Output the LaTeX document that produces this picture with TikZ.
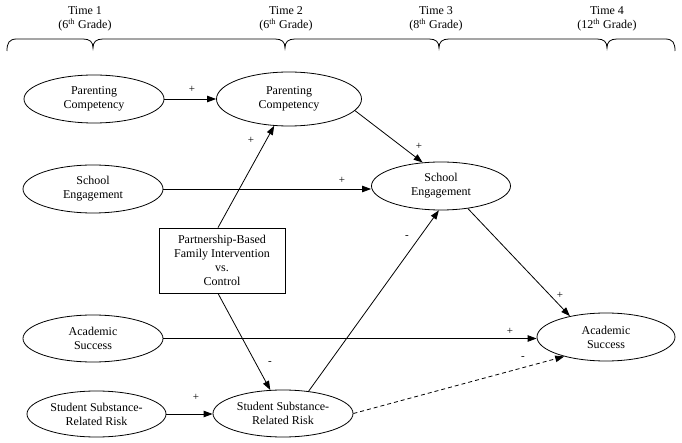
\documentclass[tikz,border=0pt]{standalone}
\usepackage{fontspec}
\setmainfont{Liberation Serif}
\usetikzlibrary{shapes.geometric,arrows.meta,calc}
\begin{document}
\begin{tikzpicture}[x=1pt,y=-1pt,
  every node/.style={font=\fontsize{12}{14}\selectfont, align=center},
  var/.style={draw, ellipse, line width=0.8pt, inner sep=0pt, minimum width=140pt, minimum height=48pt},
  boxnode/.style={draw, rectangle, line width=0.8pt, inner sep=0pt, minimum width=126pt, minimum height=65pt},
  timelab/.style={font=\fontsize{12}{14}\selectfont},
  sign/.style={font=\fontsize{11}{12}\selectfont, inner sep=0pt},
  path/.style={line width=0.8pt, -{Triangle[length=9pt,width=6.5pt]}}
]
\useasboundingbox (0,0) rectangle (682,443);

% time labels
\node[timelab] (t1) at (85,19) {Time 1\\(6\textsuperscript{th} Grade)};
\node[timelab] (t2) at (286,19) {Time 2\\(6\textsuperscript{th} Grade)};
\node[timelab] (t3) at (436,19) {Time 3\\(8\textsuperscript{th} Grade)};
\node[timelab] (t4) at (607,19) {Time 4\\(12\textsuperscript{th} Grade)};

% braces
\draw[line width=0.8pt]
  (7,51) .. controls (7,43) and (9,39) .. (17,39)
  -- (83,39) .. controls (90,39) and (93,42) .. (93,48)
  .. controls (93,42) and (96,39) .. (103,39)
  -- (275,39) .. controls (282,39) and (285,42) .. (285,48)
  .. controls (285,42) and (288,39) .. (295,39)
  -- (429,39) .. controls (436,39) and (439,42) .. (439,48)
  .. controls (439,42) and (442,39) .. (449,39)
  -- (597,39) .. controls (604,39) and (607,42) .. (607,48)
  .. controls (607,42) and (610,39) .. (617,39)
  -- (665,39) .. controls (673,39) and (675,43) .. (675,51);

% nodes
\node[var] (pc1) at (94,99) {Parenting\\Competency};
\node[var, minimum width=145pt, minimum height=54pt] (pc2) at (289,99) {Parenting\\Competency};
\node[var] (se1) at (93,189) {School\\Engagement};
\node[var, minimum width=139pt] (se3) at (441,186) {School\\Engagement};
\node[boxnode] (box) at (222,260.5) {Partnership-Based\\Family Intervention\\vs.\\Control};
\node[var, minimum height=47pt] (as1) at (93,338.5) {Academic\\Success};
\node[var, minimum width=138pt] (as4) at (606,337) {Academic\\Success};
\node[var, minimum width=139pt, minimum height=46pt] (ssr1) at (96.5,414) {Student Substance-\\Related Risk};
\node[var, minimum height=47pt] (ssr2) at (283,413.5) {Student Substance-\\Related Risk};

\coordinate (boxtop) at ($(box.north)+(-4,0)$);
\coordinate (boxbot) at ($(box.south)+(-4,0)$);

% connectors
\draw[path] (pc1.east) -- (pc1.east -| pc2.west);
\draw[path] (boxtop) -- (pc2);
\draw[path] (boxbot) -- (ssr2);
\draw[path] (pc2.-10) -- (se3.128);
\draw[path] (se1.east) -- (se1.east -| se3.west);
\draw[path] (ssr2.41) -- (se3.265);
\draw[path] (se3.-40) -- (as4.150);
\draw[path] (as1.east) -- (as1.east -| as4.west);
\draw[path] (ssr1.east) -- (ssr1.east -| ssr2.west);
\draw[path, dashed, dash pattern=on 4pt off 3pt] (ssr2.east) -- (as4.205);

% signs
\node[sign] (s1) at (192,89) {+};
\node[sign] (s2) at (251,140) {+};
\node[sign] (s3) at (342,180) {+};
\node[sign] (s4) at (419,146) {+};
\node[sign] (s5) at (407,237) {-};
\node[sign] (s6) at (270,363) {-};
\node[sign] (s7) at (196,397) {+};
\node[sign] (s8) at (560,295) {+};
\node[sign] (s9) at (510,331) {+};
\node[sign] (s10) at (523,358) {-};
\end{tikzpicture}
\end{document}
